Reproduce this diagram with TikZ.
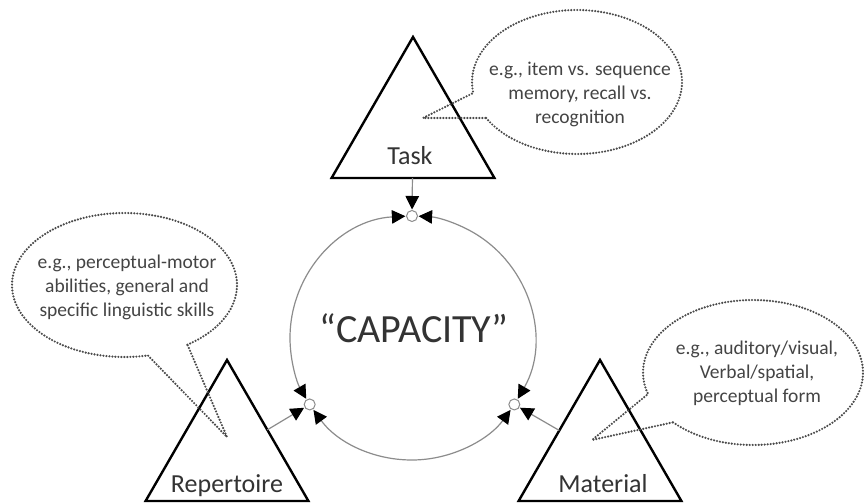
\documentclass[tikz,border=0pt]{standalone}
\usepackage{fontspec}
\setmainfont{Carlito}
\usetikzlibrary{shapes.geometric,arrows.meta}
\definecolor{txt}{HTML}{333333}
\definecolor{notetxt}{HTML}{444444}
\definecolor{ringc}{HTML}{8C8C8C}
\definecolor{dotc}{HTML}{4A4A4A}
\begin{document}
\begin{tikzpicture}[x=1pt,y=1pt,
  >={Triangle[length=13.5pt,width=13.5pt,color=black]},
  tri/.style={regular polygon, regular polygon sides=3, minimum size=188pt, inner sep=0pt, outer sep=0pt, draw=black, line width=2.4pt},
  lbl/.style={font=\fontsize{26}{30}\selectfont, text=txt, anchor=base, inner sep=0pt},
  note/.style={font=\fontsize{19.5}{24}\selectfont, text=notetxt, align=center, inner sep=0pt},
  bubble/.style={draw=dotc, line width=2.4pt, dash pattern=on 0pt off 3pt, line cap=round, line join=round},
  junc/.style={circle, draw=ringc, fill=white, minimum size=11pt, inner sep=0pt, line width=1pt},
  ring/.style={draw=ringc, line width=1.2pt, <->},
  conn/.style={draw=ringc, line width=1.2pt, ->, shorten >=0.5pt}]
\fill[white] (0,0) rectangle (864,503);
\useasboundingbox (0,0) rectangle (864,503);
% centre of the capacity ring
\coordinate (C) at (412,165);
% triangles
\node[tri] (task) at (413,372) {};
\node[tri] (rep) at (227,49) {};
\node[tri] (mat) at (600,49) {};
\node[lbl] (tasklbl) at (410,338) {Task};
\node[lbl] (replbl) at (227,11) {Repertoire};
\node[lbl] (matlbl) at (603,11) {Material};
% ring arcs
\draw[ring] ([shift={(93.1:122)}]C) arc[start angle=93.1, end angle=209.9, radius=122];
\draw[ring] ([shift={(216.1:122)}]C) arc[start angle=216.1, end angle=323.9, radius=122];
\draw[ring] ([shift={(330.1:122)}]C) arc[start angle=330.1, end angle=446.9, radius=122];
% junctions
\node[junc] (jT) at ([shift={(90:122)}]C) {};
\node[junc] (jL) at ([shift={(213:122)}]C) {};
\node[junc] (jR) at ([shift={(327:122)}]C) {};
\draw[conn] (task) -- (jT);
\draw[conn] (rep) -- (jL);
\draw[conn] (mat) -- (jR);
\node[font=\fontsize{40}{48}\selectfont, text=txt, anchor=base, inner sep=0pt] (cap) at (414,160) {“CAPACITY”};
% callouts
\coordinate (tipT) at (423,385);
\coordinate (tipL) at (227,66);
\coordinate (tipR) at (592,63);
\draw[bubble] ([shift={(210:105 and 72)}]577,421) arc[start angle=210, end angle=548.8, x radius=105, y radius=72] -- (tipT) -- cycle;
\draw[bubble] ([shift={(304:112.5 and 72)}]124.5,218) arc[start angle=304, end angle=642, x radius=112.5, y radius=72] -- (tipL) -- cycle;
\draw[bubble] ([shift={(223.4:110 and 72.5)}]753,130.5) arc[start angle=223.4, end angle=557.3, x radius=110, y radius=72.5] -- (tipR) -- cycle;
\node[note] (noteT) at (580,409) {e.g., item vs. sequence\\memory, recall vs.\\recognition};
\node[note] (noteL) at (127,216) {e.g., perceptual-motor\\abilities, general and\\specific linguistic skills};
\node[note] (noteR) at (757,130) {e.g., auditory/visual,\\Verbal/spatial,\\perceptual form};
\end{tikzpicture}
\end{document}
